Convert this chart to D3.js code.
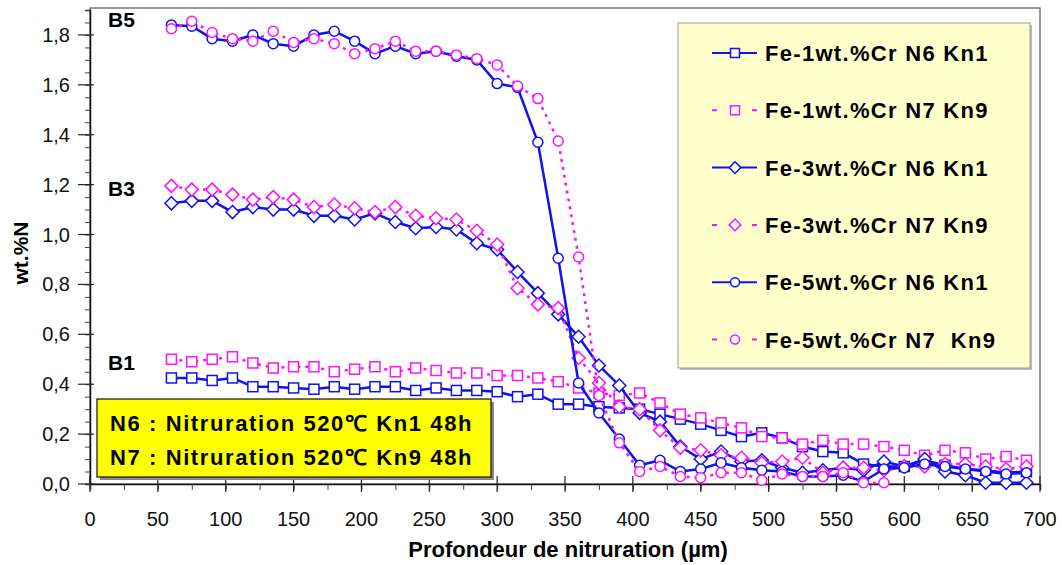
<!DOCTYPE html>
<html>
<head>
<meta charset="utf-8">
<script src="https://cdn.jsdelivr.net/npm/d3@7"></script>
<style>
body { margin: 0; background: #fff; }
text { font-family: "Liberation Sans", Arial, sans-serif; }
.narrow { font-family: "Liberation Sans Narrow", "Arial Narrow", "Liberation Sans", sans-serif; }
</style>
</head>
<body>
<div id="main"></div>
<script>
// profondeur (µm)
var depth = [60,75,90,105,120,135,150,165,180,195,210,225,240,255,270,285,300,315,330,345,360,375,390,405,420,435,450,465,480,495,510,525,540,555,570,585,600,615,630,645,660,675,690];

var fe1N6 = [0.425,0.425,0.415,0.425,0.39,0.39,0.385,0.38,0.39,0.38,0.39,0.39,0.375,0.385,0.375,0.375,0.37,0.35,0.36,0.32,0.32,0.31,0.305,0.30,0.28,0.26,0.24,0.215,0.19,0.205,0.185,0.15,0.13,0.125,0.08,0.07,0.07,0.095,0.075,0.06,0.055,0.045,0.05];
var fe1N7 = [0.50,0.49,0.50,0.51,0.485,0.465,0.47,0.47,0.45,0.46,0.47,0.45,0.465,0.455,0.445,0.445,0.435,0.435,0.425,0.41,0.385,0.365,0.355,0.365,0.325,0.28,0.265,0.245,0.225,0.19,0.185,0.16,0.175,0.16,0.16,0.15,0.135,0.115,0.135,0.125,0.10,0.11,0.095];
var fe3N6 = [1.125,1.135,1.135,1.09,1.11,1.10,1.10,1.075,1.075,1.06,1.085,1.05,1.025,1.03,1.02,0.965,0.94,0.85,0.765,0.68,0.59,0.475,0.395,0.285,0.25,0.15,0.10,0.13,0.09,0.095,0.065,0.045,0.055,0.065,0.055,0.09,0.07,0.10,0.05,0.035,0.005,0.005,0.005];
var fe3N7 = [1.195,1.18,1.18,1.16,1.14,1.15,1.14,1.11,1.12,1.105,1.09,1.11,1.075,1.065,1.06,1.015,0.96,0.785,0.72,0.705,0.505,0.405,0.31,0.30,0.215,0.145,0.135,0.115,0.105,0.085,0.09,0.105,0.045,0.065,0.065,0.055,0.07,0.07,0.08,0.08,0.07,0.06,0.07];
var fe5N6 = [1.84,1.835,1.785,1.775,1.80,1.765,1.755,1.80,1.815,1.775,1.725,1.755,1.725,1.735,1.715,1.70,1.605,1.59,1.37,0.905,0.405,0.285,0.18,0.075,0.095,0.05,0.06,0.085,0.065,0.055,0.05,0.03,0.03,0.035,0.01,0.06,0.065,0.08,0.07,0.06,0.05,0.04,0.045];
var fe5N7 = [1.825,1.855,1.81,1.785,1.775,1.815,1.77,1.785,1.765,1.725,1.745,1.775,1.735,1.735,1.72,1.705,1.68,1.595,1.545,1.375,0.91,0.355,0.165,0.05,0.07,0.03,0.025,0.045,0.045,0.015,0.04,0.03,0.03,0.045,0.005,0.005];

var seriesNames = ["Fe-1wt.%Cr N6 Kn1", "Fe-1wt.%Cr N7 Kn9", "Fe-3wt.%Cr N6 Kn1", "Fe-3wt.%Cr N7 Kn9", "Fe-5wt.%Cr N6 Kn1", "Fe-5wt.%Cr N7\u00a0\u00a0Kn9"];
var seriesValues = [fe1N6, fe1N7, fe3N6, fe3N7, fe5N6, fe5N7];
var seriesMarkers = ["square", "square", "diamond", "diamond", "circle", "circle"];
var seriesTreat = ["N6", "N7", "N6", "N7", "N6", "N7"];

var xTicks = [0,50,100,150,200,250,300,350,400,450,500,550,600,650,700];
var yTicks = [0,0.2,0.4,0.6,0.8,1.0,1.2,1.4,1.6,1.8];
var bandLabels = [{name: "B5", v: 1.83}, {name: "B3", v: 1.155}, {name: "B1", v: 0.455}];
var noteLines = ["N6 : Nitruration 520\u2103 Kn1 48h", "N7 : Nitruration 520\u2103 Kn9 48h"];

var width = 1062, height = 565;
var svg = d3.select("#main").append("svg")
    .attr("width", width)
    .attr("height", height);

var x = d3.scaleLinear().domain([0, 700]).range([90, 1040]);
var y = d3.scaleLinear().domain([0, 1.9]).range([484, 10]);

var fmt = d => d3.format(".1f")(d).replace(".", ",");

/* frame */
svg.append("rect")
    .attr("x", x(0)).attr("y", 8)
    .attr("width", x(700) - x(0)).attr("height", y(0) - 8)
    .attr("fill", "none").attr("stroke", "#555").attr("stroke-width", 1.2);

/* axes */
var yAxis = svg.append("g").attr("transform", "translate(" + x(0) + ",0)");
yAxis.call(d3.axisLeft(y).tickValues(d3.range(0, 1.91, 0.05)).tickSize(5).tickFormat(""));
yAxis.call(g => g.selectAll(".tick line").attr("stroke", "#444"));
yAxis.selectAll(".major").data(yTicks).enter().append("line")
    .attr("x1", -12).attr("x2", 4)
    .attr("y1", d => y(d)).attr("y2", d => y(d))
    .attr("stroke", "#222").attr("stroke-width", 1.2);
yAxis.selectAll(".ylab").data(yTicks).enter().append("text")
    .attr("x", -20).attr("y", d => y(d) + 7)
    .attr("text-anchor", "end")
    .style("font-size", "20px").attr("fill", "#111")
    .text(fmt);
yAxis.select(".domain").attr("stroke", "#111").attr("stroke-width", 1.5);

var xAxis = svg.append("g").attr("transform", "translate(0," + y(0) + ")");
xAxis.call(d3.axisBottom(x).tickValues(d3.range(0, 701, 25)).tickSize(6).tickFormat(""));
xAxis.call(g => g.selectAll(".tick line").attr("stroke", "#444"));
xAxis.selectAll(".major").data(xTicks).enter().append("line")
    .attr("x1", d => x(d)).attr("x2", d => x(d))
    .attr("y1", -8).attr("y2", 8)
    .attr("stroke", "#222").attr("stroke-width", 1.2);
xAxis.selectAll(".xlab").data(xTicks).enter().append("text")
    .attr("class", "narrow")
    .attr("x", d => x(d)).attr("y", 42)
    .attr("text-anchor", "middle")
    .style("font-size", "20px").attr("fill", "#111")
    .text(d => d);
xAxis.select(".domain").attr("stroke", "#111").attr("stroke-width", 1.5);

svg.append("text").attr("class", "narrow")
    .attr("x", 568).attr("y", 557)
    .attr("text-anchor", "middle")
    .style("font-size", "22px").style("font-weight", "bold")
    .text("Profondeur de nitruration (\u00b5m)");

svg.append("text")
    .attr("transform", "translate(28,253) rotate(-90)")
    .attr("text-anchor", "middle")
    .style("font-size", "21px").style("font-weight", "bold")
    .text("wt.%N");

/* note box */
var note = svg.append("g");
note.append("rect").attr("x", 100).attr("y", 402).attr("width", 394).attr("height", 78).attr("fill", "#888");
note.append("rect").attr("x", 97).attr("y", 399).attr("width", 394).attr("height", 78)
    .attr("fill", "#ffff00").attr("stroke", "#111").attr("stroke-width", 1.2);
note.selectAll("text").data(noteLines).enter().append("text")
    .attr("x", 110).attr("y", (d, i) => 431 + i * 34)
    .style("font-size", "22px").style("font-weight", "bold").style("letter-spacing", "1.6px")
    .text(d => d);

/* band labels */
svg.selectAll(".band").data(bandLabels).enter().append("text")
    .attr("x", 108).attr("y", d => y(d.v))
    .style("font-size", "21px").style("font-weight", "bold")
    .text(d => d.name);

/* series */
var colorOf = t => t == "N6" ? "#1010f0" : "#ff10ff";

function marker(sel, type, s) {
    if (type == "square")
        sel.append("rect").attr("x", -s).attr("y", -s).attr("width", 2 * s).attr("height", 2 * s);
    else if (type == "diamond")
        sel.append("path").attr("d", "M0," + (-s * 1.3) + "L" + (s * 1.3) + ",0L0," + (s * 1.3) + "L" + (-s * 1.3) + ",0Z");
    else
        sel.append("circle").attr("r", s);
}

var line = d3.line().x(d => x(d[0])).y(d => y(d[1]));

seriesValues.forEach(function(vals, k) {
    var pts = vals.map((v, i) => [depth[i], v]);
    var col = colorOf(seriesTreat[k]);
    var g = svg.append("g").attr("class", "series-" + k);
    g.append("path").datum(pts)
        .attr("d", line)
        .attr("fill", "none")
        .attr("stroke", col)
        .attr("stroke-width", 2.5)
        .attr("stroke-dasharray", seriesTreat[k] == "N6" ? null : "3,5");
    g.selectAll(".pt").data(pts).enter().append("g")
        .attr("transform", d => "translate(" + x(d[0]) + "," + y(d[1]) + ")")
        .each(function() { marker(d3.select(this), seriesMarkers[k], 5); })
        .selectAll("*")
        .attr("fill", "#fff").attr("stroke", col).attr("stroke-width", 1.5);
});

/* legend */
var legend = svg.append("g");
legend.append("rect").attr("x", 680).attr("y", 25).attr("width", 352).attr("height", 345).attr("fill", "#bbb");
legend.append("rect").attr("x", 678).attr("y", 23).attr("width", 352).attr("height", 345)
    .attr("fill", "#ffffcc").attr("stroke", "#999").attr("stroke-width", 1);
seriesNames.forEach(function(name, k) {
    var ly = 53 + k * 57.3;
    var col = colorOf(seriesTreat[k]);
    var item = legend.append("g").attr("transform", "translate(0," + ly + ")");
    item.append("line").attr("x1", 712).attr("x2", 757).attr("y1", 0).attr("y2", 0)
        .attr("stroke", col).attr("stroke-width", 2)
        .attr("stroke-dasharray", seriesTreat[k] == "N6" ? null : "5,35");
    item.append("g").attr("transform", "translate(735,0)")
        .each(function() { marker(d3.select(this), seriesMarkers[k], 4.5); })
        .selectAll("*")
        .attr("fill", "#fff").attr("stroke", col).attr("stroke-width", 1.5);
    item.append("text").attr("x", 765).attr("y", 8)
        .style("font-size", "22px").style("font-weight", "bold").style("letter-spacing", "1.3px")
        .text(name);
});
</script>
</body>
</html>
